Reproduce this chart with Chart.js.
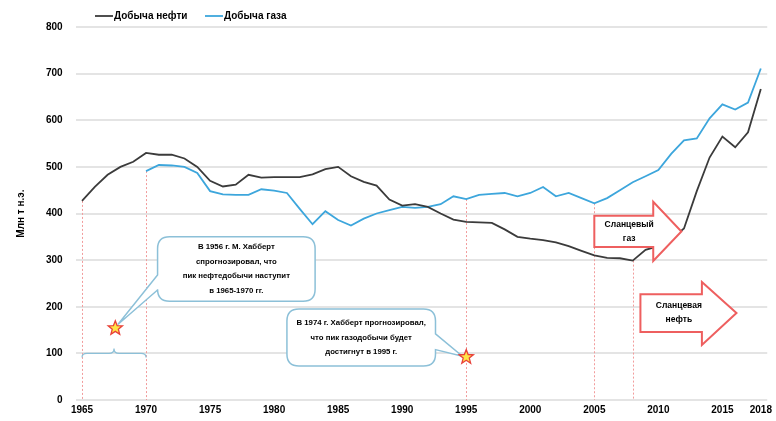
<!DOCTYPE html>
<html>
<head>
<meta charset="utf-8">
<script src="https://cdn.jsdelivr.net/npm/chart.js@4.4.1/dist/chart.umd.min.js"></script>
<style>
  html, body { margin: 0; padding: 0; background: #fff; }
  #wrap { width: 776px; height: 421px; }
</style>
</head>
<body>
<div id="wrap"><canvas id="c" width="776" height="421"></canvas></div>
<script>
// Годы (категории оси X)
const years = [1965, 1966, 1967, 1968, 1969, 1970, 1971, 1972, 1973, 1974,
               1975, 1976, 1977, 1978, 1979, 1980, 1981, 1982, 1983, 1984,
               1985, 1986, 1987, 1988, 1989, 1990, 1991, 1992, 1993, 1994,
               1995, 1996, 1997, 1998, 1999, 2000, 2001, 2002, 2003, 2004,
               2005, 2006, 2007, 2008, 2009, 2010, 2011, 2012, 2013, 2014,
               2015, 2016, 2017, 2018];

// Добыча нефти, млн т н.э.
const oil = [427, 457, 483, 500, 511, 530, 526, 526, 518, 500,
             470, 458, 462, 483, 477, 478, 478, 478, 484, 495,
             500, 480, 468, 460, 430, 417, 420, 414, 400, 387,
             382, 381, 380, 366, 350, 346, 343, 338, 330, 320,
             310, 305, 304, 299, 322, 330, 345, 368, 448, 520,
             565, 542, 574, 667];

// Добыча газа, млн т н.э. (данные с 1970 г.)
const gas = [null, null, null, null, null, 491, 504, 503, 500, 487,
             448, 441, 440, 440, 452, 449, 444, 410, 377, 405,
             386, 374, 389, 400, 407, 414, 412, 414, 420, 437,
             431, 440, 442, 444, 437, 444, 457, 437, 444, 433,
             422, 433, 450, 467, 480, 493, 528, 557, 561, 604,
             634, 623, 638, 711];

// Подписи оси X
const tickYears = [1965, 1970, 1975, 1980, 1985, 1990, 1995, 2000, 2005, 2010, 2015, 2018];

// Вертикальные пунктиры: год и ряд, от которого идёт линия
const guideYears = [1965, 1970, 1995, 2005, 2008];
const guideSeries = ['oil', 'gas', 'gas', 'gas', 'oil'];

const FONT = 'Arial, "Liberation Sans", sans-serif';
const OIL_COLOR = '#3b3b3b';
const GAS_COLOR = '#3da6dc';
const BOX_COLOR = '#8cc0d8';
const RED = '#ee5f5f';

function star(ctx, cx, cy, r1, r2) {
    ctx.beginPath();
    for (let i = 0; i < 10; i++) {
        const r = i % 2 ? r2 : r1;
        const a = -Math.PI / 2 + i * Math.PI / 5;
        ctx.lineTo(cx + r * Math.cos(a), cy + r * Math.sin(a));
    }
    ctx.closePath();
    ctx.fillStyle = '#ffe545';
    ctx.fill();
    ctx.strokeStyle = '#e8403a';
    ctx.lineWidth = 1.3;
    ctx.stroke();
}

// прямоугольник со скруглениями и хвостиком (выноска)
function callout(ctx, l, t, r, b, side, a1, a2, tx, ty, lines) {
    const rad = 12;
    ctx.beginPath();
    ctx.moveTo(l + rad, t);
    ctx.lineTo(r - rad, t);
    ctx.quadraticCurveTo(r, t, r, t + rad);
    if (side === 'right') {
        ctx.lineTo(r, a1);
        ctx.lineTo(tx, ty);
        ctx.lineTo(r, a2);
    }
    ctx.lineTo(r, b - rad);
    ctx.quadraticCurveTo(r, b, r - rad, b);
    ctx.lineTo(l + rad, b);
    ctx.quadraticCurveTo(l, b, l, b - rad);
    if (side === 'left') {
        ctx.lineTo(l, a2);
        ctx.lineTo(tx, ty);
        ctx.lineTo(l, a1);
    }
    ctx.lineTo(l, t + rad);
    ctx.quadraticCurveTo(l, t, l + rad, t);
    ctx.closePath();
    ctx.fillStyle = '#fff';
    ctx.fill();
    ctx.strokeStyle = BOX_COLOR;
    ctx.lineWidth = 1.5;
    ctx.stroke();

    ctx.fillStyle = '#000';
    ctx.font = 'bold 7.8px ' + FONT;
    ctx.textAlign = 'center';
    ctx.textBaseline = 'middle';
    const cx = (l + r) / 2;
    const step = 14.5;
    const y0 = (t + b) / 2 - step * (lines.length - 1) / 2;
    lines.forEach((s, i) => ctx.fillText(s, cx, y0 + i * step));
}

function blockArrow(ctx, l, hs, tip, bt, bb, ht, hb, lines) {
    const cy = (bt + bb) / 2;
    ctx.beginPath();
    ctx.moveTo(l, bt);
    ctx.lineTo(hs, bt);
    ctx.lineTo(hs, ht);
    ctx.lineTo(tip, cy);
    ctx.lineTo(hs, hb);
    ctx.lineTo(hs, bb);
    ctx.lineTo(l, bb);
    ctx.closePath();
    ctx.fillStyle = '#fff';
    ctx.fill();
    ctx.strokeStyle = RED;
    ctx.lineWidth = 2;
    ctx.stroke();

    ctx.fillStyle = '#000';
    ctx.font = 'bold 8.5px ' + FONT;
    ctx.textAlign = 'center';
    ctx.textBaseline = 'middle';
    const cx = l + 0.4 * (tip - l);
    ctx.fillText(lines[0], cx, cy - 7);
    ctx.fillText(lines[1], cx, cy + 7);
}

const extras = {
    id: 'extras',
    beforeDatasetsDraw(chart) {
        const { ctx, scales: { x, y } } = chart;
        ctx.save();
        ctx.strokeStyle = '#f29c9c';
        ctx.lineWidth = 1;
        ctx.setLineDash([2, 2]);
        guideYears.forEach((yr, k) => {
            const i = years.indexOf(yr);
            const v = guideSeries[k] === 'oil' ? oil[i] : gas[i];
            const px = Math.round(x.getPixelForValue(i)) + 0.5;
            ctx.beginPath();
            ctx.moveTo(px, y.getPixelForValue(v));
            ctx.lineTo(px, y.getPixelForValue(0));
            ctx.stroke();
        });
        ctx.restore();
    },
    afterDraw(chart) {
        const { ctx, scales: { x, y } } = chart;
        const X = yr => x.getPixelForValue(yr - years[0]);
        const Y = v => y.getPixelForValue(v);
        ctx.save();

        // легенда
        ctx.lineWidth = 1.8;
        ctx.strokeStyle = OIL_COLOR;
        ctx.beginPath(); ctx.moveTo(95, 16); ctx.lineTo(113, 16); ctx.stroke();
        ctx.strokeStyle = GAS_COLOR;
        ctx.beginPath(); ctx.moveTo(205, 16); ctx.lineTo(223, 16); ctx.stroke();
        ctx.fillStyle = '#000';
        ctx.font = 'bold 10px ' + FONT;
        ctx.textAlign = 'left';
        ctx.textBaseline = 'middle';
        ctx.fillText('Добыча нефти', 114, 16);
        ctx.fillText('Добыча газа', 224, 16);

        // фигурная скобка 1965-1970
        ctx.strokeStyle = BOX_COLOR;
        ctx.lineWidth = 1.2;
        const bl = X(1965), br = X(1970), bm = (bl + br) / 2, by = Y(100);
        ctx.beginPath();
        ctx.moveTo(bl, by + 4);
        ctx.quadraticCurveTo(bl, by, bl + 5, by);
        ctx.lineTo(bm - 5, by);
        ctx.quadraticCurveTo(bm, by, bm, by - 5);
        ctx.quadraticCurveTo(bm, by, bm + 5, by);
        ctx.lineTo(br - 5, by);
        ctx.quadraticCurveTo(br, by, br, by + 4);
        ctx.stroke();

        // выноски
        callout(ctx, X(1970.9), Y(350), X(1983.2), Y(212), 'left', Y(268), Y(236),
            X(1967.8), Y(162),
            ['В 1956 г. М. Хабберт', 'спрогнозировал, что', 'пик нефтедобычи наступит', 'в 1965-1970 гг.']);
        callout(ctx, X(1981.0), Y(195), X(1992.6), Y(73), 'right', Y(142), Y(108),
            X(1994.7), Y(94),
            ['В 1974 г. Хабберт прогнозировал,', 'что пик газодобычи будет', 'достигнут в 1995 г.']);

        star(ctx, X(1967.6), Y(154), 7.5, 3.2);
        star(ctx, X(1995), Y(92), 7.5, 3.2);

        // стрелки сланцевой добычи
        blockArrow(ctx, X(2005), X(2009.6), X(2011.8), Y(395), Y(328), Y(425), Y(298),
            ['Сланцевый', 'газ']);
        blockArrow(ctx, X(2008.6), X(2013.4), X(2016.1), Y(227), Y(146), Y(253), Y(118),
            ['Сланцевая', 'нефть']);

        ctx.restore();
    }
};

new Chart(document.getElementById('c'), {
    type: 'line',
    data: {
        labels: years.map(String),
        datasets: [
            { label: 'Добыча нефти', data: oil, borderColor: OIL_COLOR, borderWidth: 1.8,
              pointRadius: 0, tension: 0, fill: false },
            { label: 'Добыча газа', data: gas, borderColor: GAS_COLOR, borderWidth: 1.8,
              pointRadius: 0, tension: 0, fill: false, spanGaps: false }
        ]
    },
    options: {
        responsive: false,
        animation: false,
        devicePixelRatio: 1,
        layout: { padding: { top: 27, right: 6.6, left: 0, bottom: 0 } },
        plugins: {
            legend: { display: false },
            tooltip: { enabled: false }
        },
        scales: {
            x: {
                type: 'category',
                offset: true,
                grid: { display: false, drawTicks: false },
                border: { display: false },
                ticks: {
                    autoSkip: false, maxRotation: 0, minRotation: 0, padding: 4,
                    color: '#000', font: { family: FONT, size: 10, weight: 'bold' },
                    callback: (v, i) => tickYears.includes(years[i]) ? String(years[i]) : ''
                },
                afterFit: s => { s.height = 21; }
            },
            y: {
                min: 0, max: 800,
                grid: { color: '#e4e4e4', lineWidth: 2, drawTicks: false },
                border: { display: false },
                ticks: {
                    stepSize: 100, padding: 13, color: '#000',
                    font: { family: FONT, size: 10, weight: 'bold' }
                },
                title: {
                    display: true, text: 'Млн т н.э.', color: '#000',
                    font: { family: FONT, size: 10, weight: 'bold' },
                    padding: { top: 15, bottom: 0 }
                },
                afterFit: s => { s.width = 75.6; }
            }
        }
    },
    plugins: [extras]
});
</script>
</body>
</html>
